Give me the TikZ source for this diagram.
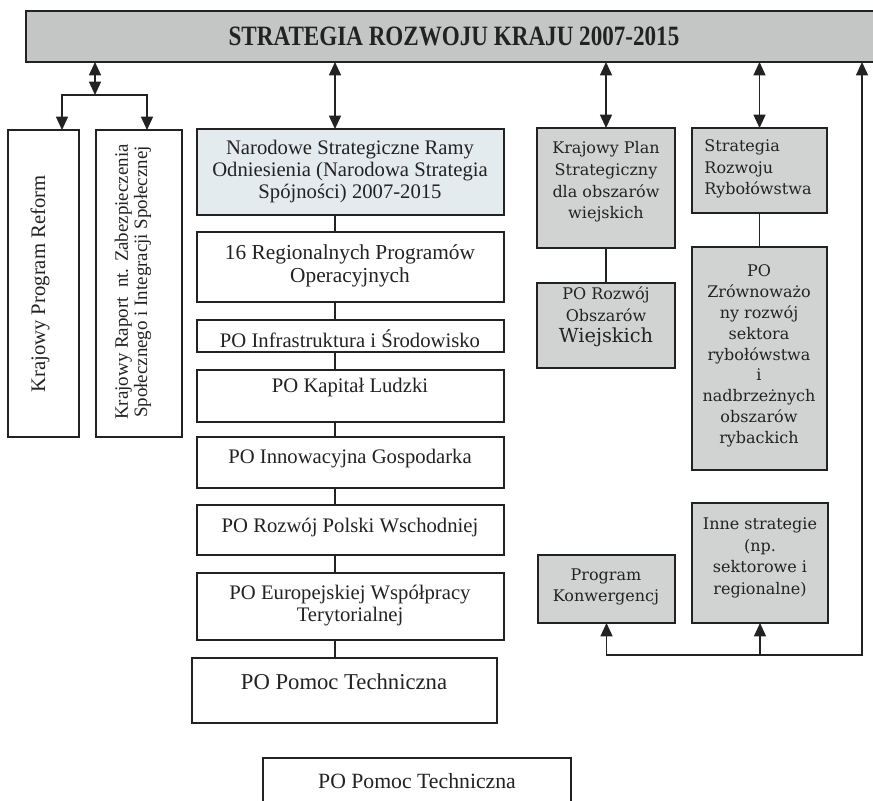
\documentclass[tikz,border=0pt]{standalone}
\usepackage{fontspec}
\setmainfont{Liberation Serif}
\newfontfamily\grayfont{DejaVu Serif}
\usetikzlibrary{arrows.meta}

\definecolor{barfill}{HTML}{C4C5C5}
\definecolor{grayfill}{HTML}{D1D3D3}
\definecolor{paleblue}{HTML}{E4EBEE}
\definecolor{ink}{HTML}{222222}

% box from corner (x1,y1) to corner (x2,y2), in pixel units
\newcommand{\pbox}[6]{%
  \pgfmathsetmacro{\boxwd}{(#5-#3)*0.75}%
  \pgfmathsetmacro{\boxht}{(#6-#4)*0.75}%
  \node[#1, anchor=north west, minimum width=\boxwd pt, minimum height=\boxht pt] (#2) at (#3,#4) {};}

\begin{document}
\begin{tikzpicture}[x=0.75pt,y=-0.75pt,
  frame/.style={draw=ink, line width=1.4pt, inner sep=0pt, outer sep=0pt},
  wbox/.style={frame, fill=white},
  gbox/.style={frame, fill=grayfill},
  bbox/.style={frame, fill=paleblue},
  barbox/.style={frame, fill=barfill},
  wtxt/.style={inner sep=0pt, align=center, text=ink, font=\fontsize{15.5}{16.5}\selectfont},
  gtxt/.style={inner sep=0pt, align=center, text=ink, font=\grayfont\fontsize{12}{16.3}\selectfont},
  link/.style={line width=1pt, draw=ink},
  oneway/.style={-{Triangle[length=10pt,width=9pt]}},
  twoway/.style={{Triangle[length=10pt,width=9pt]}-{Triangle[length=10pt,width=9pt]}}
]
\useasboundingbox (0,0) rectangle (873,800);
\clip (0,0) rectangle (873,800);

% top strategy bar
\pbox{barbox}{srk}{26}{11}{890}{62}
\node[inner sep=0pt, text=ink, font=\bfseries\fontsize{21}{24}\selectfont] (srk-t) at (454,36)
  {\scalebox{0.825}[1]{STRATEGIA ROZWOJU KRAJU 2007-2015}};

% left vertical boxes
\pbox{wbox}{kpr}{8}{130}{79}{437}
\node[wtxt, rotate=90, font=\fontsize{15.5}{16.5}\selectfont] (kpr-t) at (40,284) {Krajowy Program Reform};
\pbox{wbox}{krn}{96}{130}{182}{437}
\node[wtxt, rotate=90, font=\fontsize{14.2}{14.5}\selectfont] (krn-t) at (133,282)
  {Krajowy Raport\ \ nt. Zabezpieczenia\\Społecznego i Integracji Społecznej};

% central column of operational programmes
\pbox{bbox}{nsro}{197}{129}{504}{215}
\node[wtxt] (nsro-t) at (350,172) {Narodowe Strategiczne Ramy\\Odniesienia (Narodowa Strategia\\Spójności) 2007-2015};
\pbox{wbox}{rpo}{197}{232}{504}{302}
\node[wtxt, font=\fontsize{16}{17.5}\selectfont] (rpo-t) at (350,266) {16 Regionalnych Programów\\Operacyjnych};
\pbox{wbox}{pois}{197}{320}{504}{352}
\node[wtxt] (pois-t) at (350,339) {PO Infrastruktura i Środowisko};
\pbox{wbox}{pokl}{197}{370}{504}{422}
\node[wtxt] (pokl-t) at (350,388) {PO Kapitał Ludzki};
\pbox{wbox}{poig}{197}{437}{504}{488}
\node[wtxt] (poig-t) at (350,459) {PO Innowacyjna Gospodarka};
\pbox{wbox}{porpw}{197}{505}{504}{555}
\node[wtxt] (porpw-t) at (350,528) {PO Rozwój Polski Wschodniej};
\pbox{wbox}{poewt}{197}{573}{504}{640}
\node[wtxt] (poewt-t) at (350,606) {PO Europejskiej Współpracy\\Terytorialnej};
\pbox{wbox}{popt}{192}{658}{497}{723}
\node[wtxt, font=\fontsize{17}{18}\selectfont] (popt-t) at (344,682) {PO Pomoc Techniczna};
\pbox{wbox}{popt2}{263}{758}{571}{830}
\node[wtxt, font=\fontsize{16.3}{18}\selectfont] (popt2-t) at (417,781) {PO Pomoc Techniczna};

% grey boxes on the right
\pbox{gbox}{kps}{537}{128}{675}{248}
\node[gtxt] (kps-t) at (606,182) {Krajowy Plan\\Strategiczny\\dla obszarów\\wiejskich};
\pbox{gbox}{prow}{537}{283}{675}{368}
\node[gtxt] (prow-t) at (606,317) {PO Rozwój\\Obszarów\\{\fontsize{14.5}{17}\selectfont Wiejskich}};
\pbox{gbox}{srr}{692}{128}{827}{213}
\node[gtxt, align=left] (srr-t) at (758,169) {Strategia\\Rozwoju\\Rybołówstwa};
\pbox{gbox}{pozr}{692}{247}{827}{470}
\node[gtxt, font=\grayfont\fontsize{12}{15.6}\selectfont] (pozr-t) at (759,356)
  {PO\\Zrównoważo\\ny rozwój\\sektora\\rybołówstwa\\i\\nadbrzeżnych\\obszarów\\rybackich};
\pbox{gbox}{pk}{538}{555}{675}{623}
\node[gtxt] (pk-t) at (606,587) {Program\\Konwergencj};
\pbox{gbox}{inne}{692}{503}{828}{623}
\node[gtxt] (inne-t) at (760,558) {Inne strategie\\(np.\\sektorowe i\\regionalne)};

% connectors
\coordinate (spine) at (335,0);
\coordinate (lsplit) at (95,95);
\coordinate (lx1) at (62,0);
\coordinate (lx2) at (147,0);
\coordinate (rcorner) at (862,655);

\draw[link, twoway] (srk.south -| lsplit) -- (lsplit);
\draw[link, oneway] (lsplit) -| (kpr.north -| lx1);
\draw[link, oneway] (lsplit) -| (krn.north -| lx2);

\draw[link, twoway] (srk.south -| spine) -- (nsro.north -| spine);
\foreach \a/\b in {nsro/rpo, rpo/pois, pois/pokl, pokl/poig, poig/porpw, porpw/poewt, poewt/popt}
  \draw[link] (\a.south -| spine) -- (\b.north -| spine);

\draw[link, twoway] (srk.south -| kps.north) -- (kps.north);
\draw[link] (kps.south) -- (prow.north);
\draw[link, twoway] (srk.south -| srr.north) -- (srr.north);
\draw[link] (srr.south) -- (pozr.north);

\draw[link, twoway] (srk.south -| rcorner) -- (rcorner) -| (pk.south);
\draw[link, oneway] (inne.south |- rcorner) -- (inne.south);
\end{tikzpicture}
\end{document}
